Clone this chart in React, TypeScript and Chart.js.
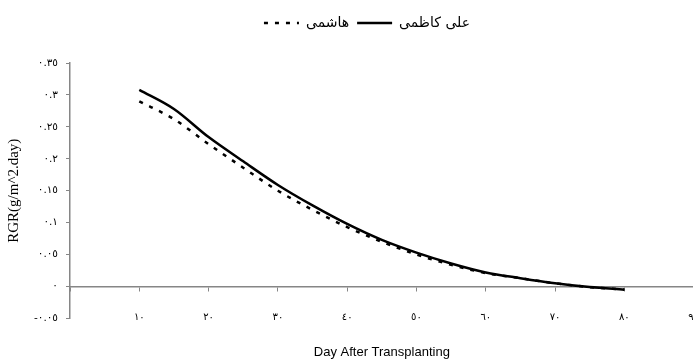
import React, { useEffect, useRef } from 'react';
import { Chart, registerables } from 'chart.js';

Chart.register(...registerables);

// ---- data ----
const DAYS = [10, 15, 20, 25, 30, 35, 40, 45, 50, 55, 60, 65, 70, 75, 80];
const KAZEMI = [0.308, 0.278, 0.234, 0.196, 0.159, 0.127, 0.098, 0.073, 0.053, 0.036, 0.022, 0.013, 0.005, -0.001, -0.005];
const HASHEMI = [0.290, 0.262, 0.223, 0.186, 0.150, 0.120, 0.093, 0.070, 0.050, 0.034, 0.021, 0.013, 0.005, -0.001, -0.005];
const SERIES_NAMES = ['علی کاظمی', 'هاشمی'];
const X_TITLE = 'Day After Transplanting';
const Y_TITLE = 'RGR(g/m^2.day)';
const X_MIN = 0;
const X_MAX = 90;
const X_STEP = 10;
const Y_MIN = -0.05;
const Y_MAX = 0.35;
const Y_STEP = 0.05;

const AR_DIGITS = '٠١٢٣٤٥٦٧٨٩';
const toArabic = (s: string) => s.replace(/\d/g, (d) => AR_DIGITS[+d]);

const layoutTweak = {
  id: 'layoutTweak',
  afterLayout(chart: any) {
    const l = chart.legend;
    if (l) {
      l.left += 7;
      l.right += 7;
    }
    const t = chart.titleBlock;
    if (t) {
      t.left = chart.chartArea.left;
      t.right = chart.chartArea.right;
    }
  },
};

export default function App() {
  const ref = useRef<HTMLCanvasElement | null>(null);

  useEffect(() => {
    if (!ref.current) return;
    const axisGray = '#868686';
    const chart = new Chart(ref.current, {
      type: 'line',
      data: {
        datasets: [
          {
            label: SERIES_NAMES[0],
            data: DAYS.map((d, i) => ({ x: d, y: KAZEMI[i] })),
            borderColor: '#000',
            backgroundColor: 'rgba(0,0,0,0)',
            borderWidth: 2.5,
            pointRadius: 0,
            cubicInterpolationMode: 'monotone',
          },
          {
            label: SERIES_NAMES[1],
            data: DAYS.map((d, i) => ({ x: d, y: HASHEMI[i] })),
            borderColor: '#000',
            backgroundColor: 'rgba(0,0,0,0)',
            borderWidth: 2.5,
            borderDash: [4, 7],
            pointRadius: 0,
            cubicInterpolationMode: 'monotone',
          },
        ],
      },
      options: {
        animation: false,
        responsive: false,
        maintainAspectRatio: false,
        layout: { padding: { left: 0, right: 0, top: 8, bottom: 0 } },
        plugins: {
          tooltip: { enabled: false },
          legend: {
            position: 'top',
            reverse: true,
            labels: {
              boxWidth: 35,
              boxHeight: 0,
              color: '#000',
              padding: 8,
              font: { family: "'DejaVu Sans', serif", size: 14 },
            },
          },
          subtitle: {
            display: true,
            position: 'top',
            weight: 500,
            text: '',
            font: { size: 10 },
            padding: { top: 0, bottom: 11 },
          },
          title: {
            display: true,
            position: 'bottom',
            text: X_TITLE,
            color: '#000',
            font: { family: "'Liberation Sans', Arial, sans-serif", size: 13, weight: 'normal' },
            padding: { top: 26, bottom: 3 },
          },
        },
        scales: {
          x: {
            type: 'linear',
            position: { y: 0 } as any,
            min: X_MIN,
            max: X_MAX,
            grid: { drawOnChartArea: false, drawTicks: true, tickLength: 4, color: axisGray },
            border: { color: axisGray, width: 1.5 },
            ticks: {
              stepSize: X_STEP,
              color: '#000',
              padding: 21,
              maxRotation: 0,
              font: { family: "'DejaVu Sans', sans-serif", size: 10 },
              callback: (v: any) => (v === 0 ? '' : toArabic(String(v))),
            },
          },
          y: {
            type: 'linear',
            min: Y_MIN,
            max: Y_MAX,
            afterFit: (s: any) => {
              s.width = 70;
            },
            grid: { drawOnChartArea: false, drawTicks: true, tickLength: 4, color: axisGray },
            border: { color: axisGray, width: 1.5 },
            title: {
              display: true,
              text: Y_TITLE,
              color: '#000',
              font: { family: "'Liberation Serif', 'Times New Roman', serif", size: 15 },
              padding: { top: 5, bottom: 0 },
            },
            ticks: {
              stepSize: Y_STEP,
              color: '#000',
              padding: 8,
              font: { family: "'DejaVu Sans', sans-serif", size: 10.5 },
              callback: (v: any) => toArabic(String(Number(Number(v).toFixed(2)))),
            },
          },
        },
      },
      plugins: [layoutTweak],
    });
    return () => chart.destroy();
  }, []);

  return (
    <div style={{ position: 'absolute', left: 0, top: 0, width: 693, height: 363, overflow: 'hidden', background: '#fff' }}>
      <canvas ref={ref} width={720} height={363} style={{ display: 'block' }} />
    </div>
  );
}
